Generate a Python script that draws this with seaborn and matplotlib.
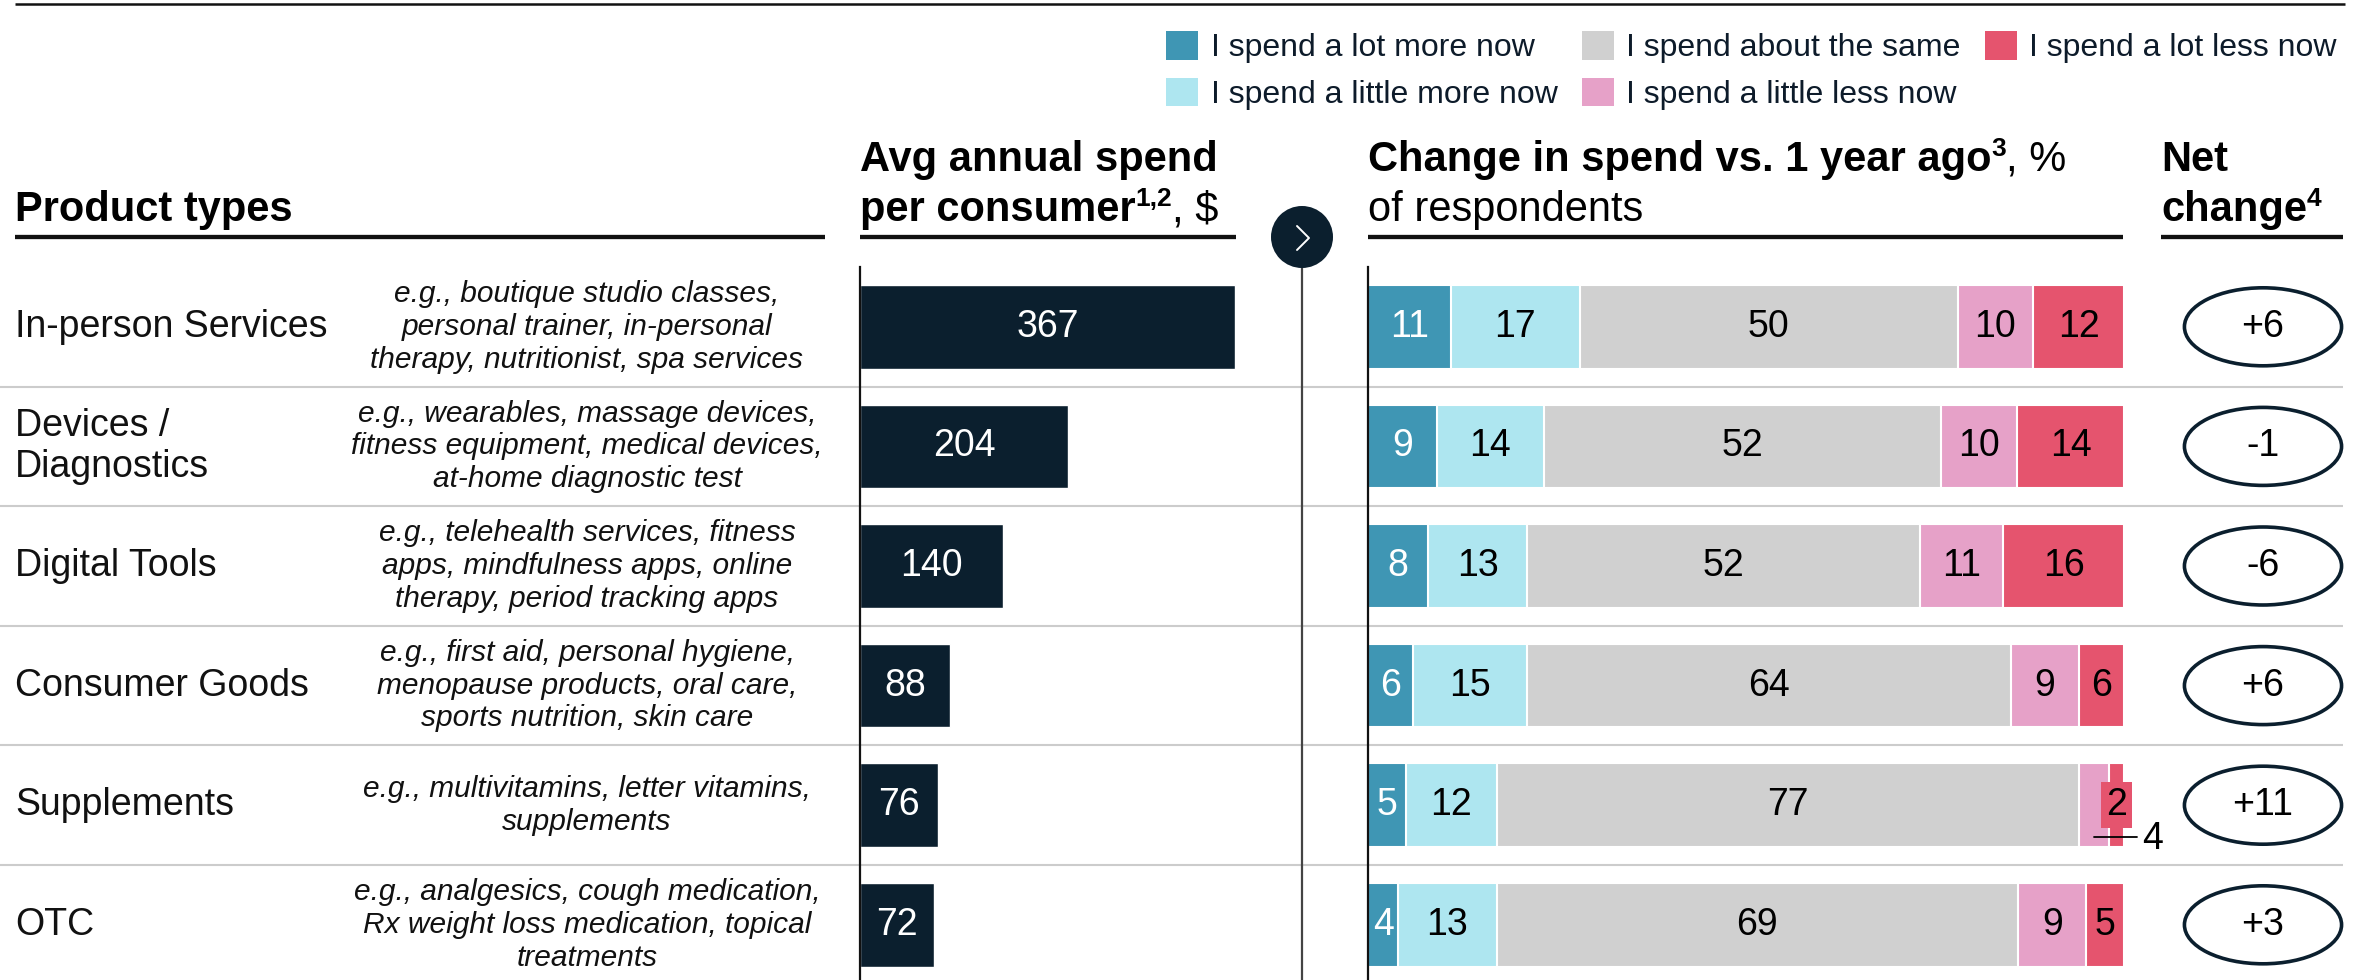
import matplotlib
matplotlib.use("Agg")
import matplotlib.pyplot as plt
import seaborn as sns
import numpy as np
import pandas as pd
from matplotlib.patches import Ellipse, Rectangle, Patch, Circle

# ---------------- data ----------------
categories = ["In-person Services", "Devices /\nDiagnostics", "Digital Tools",
              "Consumer Goods", "Supplements", "OTC"]
descriptions = [
    "e.g., boutique studio classes,\npersonal trainer, in-personal\ntherapy, nutritionist, spa services",
    "e.g., wearables, massage devices,\nfitness equipment, medical devices,\nat-home diagnostic test",
    "e.g., telehealth services, fitness\napps, mindfulness apps, online\ntherapy, period tracking apps",
    "e.g., first aid, personal hygiene,\nmenopause products, oral care,\nsports nutrition, skin care",
    "e.g., multivitamins, letter vitamins,\nsupplements",
    "e.g., analgesics, cough medication,\nRx weight loss medication, topical\ntreatments",
]
avg_spend = [367, 204, 140, 88, 76, 72]
lot_more = [11, 9, 8, 6, 5, 4]
little_more = [17, 14, 13, 15, 12, 13]
same = [50, 52, 52, 64, 77, 69]
little_less = [10, 10, 11, 9, 4, 9]
lot_less = [12, 14, 16, 6, 2, 5]
net_change = ["+6", "-1", "-6", "+6", "+11", "+3"]
legend_labels = ["I spend a lot more now", "I spend a little more now",
                 "I spend about the same", "I spend a little less now",
                 "I spend a lot less now"]

# ---------------- style ----------------
NAVY = "#0b1f2e"
colors = ["#3f96b4", "#aee6f0", "#d0d0d0", "#e6a1c8", "#e5546e"]
text_colors = ["white", "black", "black", "black", "black"]

W, H, DPI = 2362, 980, 100
sns.set_theme(style="white")
plt.rcParams['font.family'] = ['Liberation Sans', 'DejaVu Sans']

fig = plt.figure(figsize=(W / DPI, H / DPI), dpi=DPI)
fig.patch.set_facecolor("white")

ROW_TOP = 267
ROW_H = 119.6
n = len(categories)
ROW_BOT = ROW_TOP + ROW_H * n
BAR_W = 0.70


def add_axes_px(x0, x1, y0, y1):
    ax = fig.add_axes([x0 / W, 1 - y1 / H, (x1 - x0) / W, (y1 - y0) / H])
    ax.patch.set_alpha(0)
    return ax


def clean(ax, left=False):
    ax.set_xticks([])
    ax.set_yticks([])
    ax.set_xlabel("")
    ax.set_ylabel("")
    for s in ["top", "right", "bottom", "left"]:
        ax.spines[s].set_visible(False)
    if left:
        ax.spines["left"].set_visible(True)
        ax.spines["left"].set_color("#111111")
        ax.spines["left"].set_linewidth(1.6)
    ax.set_ylim(n - 0.5, -0.5)


# background rows
axbg = add_axes_px(0, 2343, ROW_TOP, ROW_BOT)
axbg.set_xlim(0, 2343)
axbg.set_ylim(n - 0.5, -0.5)
axbg.axis("off")
for i in range(n - 1):
    axbg.axhline(i + 0.5, color="#cccccc", lw=1.5)
for i, (c, d) in enumerate(zip(categories, descriptions)):
    axbg.text(15, i, c, va="center", ha="left", fontsize=27, color="#111111", linespacing=1.18)
    axbg.text(587, i, d, va="center", ha="center", fontsize=21.5, style="italic",
              color="#111111", linespacing=1.22)

# avg spend bars
ax1 = add_axes_px(860, 1240, ROW_TOP, ROW_BOT)
df_spend = pd.DataFrame({"category": categories, "spend": avg_spend})
sns.barplot(data=df_spend, x="spend", y="category", color=NAVY, orient="h",
            width=BAR_W, saturation=1, ax=ax1)
ax1.set_xlim(0, 372)
ax1.bar_label(ax1.containers[0], labels=[str(v) for v in avg_spend],
              label_type="center", color="white", fontsize=27)
clean(ax1, left=True)

# stacked change bars (each row shown as share of its total)
ax2 = add_axes_px(1368, 2124, ROW_TOP, ROW_BOT)
segments = np.array([lot_more, little_more, same, little_less, lot_less], dtype=float)
shares = segments / segments.sum(axis=0) * 100
cum = np.cumsum(shares, axis=0)
for k in reversed(range(len(segments))):
    sns.barplot(x=cum[k], y=categories, color=colors[k], orient="h", width=BAR_W,
                saturation=1, edgecolor="white", linewidth=1.5, ax=ax2)
ax2.set_xlim(0, 100)
for k in range(len(segments)):
    for i in range(n):
        v = int(segments[k][i])
        cx = cum[k][i] - shares[k][i] / 2
        if k >= 3 and segments[3][i] <= 4 and segments[4][i] <= 4:
            if k == 4:
                ax2.add_patch(Rectangle((cx - 2.1, i - 0.19), 4.2, 0.38,
                                        facecolor=colors[4], edgecolor="none",
                                        clip_on=False, zorder=3))
                ax2.text(cx, i, str(v), ha="center", va="center", fontsize=27,
                         color="black", zorder=4)
            else:
                ax2.plot([cx, 101.7], [i + 0.27, i + 0.27], color="black",
                         lw=1.3, clip_on=False, zorder=5)
                ax2.text(102.4, i + 0.285, str(v), ha="left", va="center",
                         fontsize=27, color="black", zorder=5)
        else:
            ax2.text(cx, i, str(v), ha="center", va="center", fontsize=27,
                     color=text_colors[k])
clean(ax2, left=True)

# net change ellipses
ax3 = add_axes_px(2182, 2344, ROW_TOP, ROW_BOT)
ax3.set_xlim(0, 1)
for i, v in enumerate(net_change):
    ax3.add_patch(Ellipse((0.5, i), width=0.97, height=78 / ROW_H, fill=False,
                          edgecolor=NAVY, lw=2.6, clip_on=False))
    ax3.text(0.5, i, v, ha="center", va="center", fontsize=27, color="black")
clean(ax3)

# overlay for header lines / chevron
ov = fig.add_axes([0, 0, 1, 1])
ov.set_xlim(0, W)
ov.set_ylim(H, 0)
ov.axis("off")
ov.patch.set_alpha(0)

ov.plot([15, 2345], [4, 4], color="#111111", lw=1.8, solid_capstyle="butt")
for x0, x1 in [(15, 825), (860, 1236), (1368, 2123), (2161, 2343)]:
    ov.plot([x0, x1], [237, 237], color="#111111", lw=3.1, solid_capstyle="butt")

ov.plot([1302, 1302], [250, H], color="#444444", lw=1.6, zorder=1)
ov.add_patch(Circle((1302, 237), 31, facecolor=NAVY, edgecolor="none", zorder=3))
ov.plot([1297, 1309, 1297], [226, 238, 250], color="white", lw=1.4, zorder=4)

renderer = fig.canvas.get_renderer()


def rich(x, y, parts):
    for s, weight, sup in parts:
        size = 19 if sup else 30
        yy = y - 15 if sup else y
        t = ov.text(x, yy, s, fontsize=size, fontweight=weight, ha="left",
                    va="baseline", color="black")
        x += t.get_window_extent(renderer=renderer).width


rich(15, 221, [("Product types", "bold", False)])
rich(860, 171, [("Avg annual spend", "bold", False)])
rich(860, 221, [("per consumer", "bold", False), ("1,2", "bold", True),
                (", \\$", "normal", False)])
rich(1368, 171, [("Change in spend vs. 1 year ago", "bold", False), ("3", "bold", True),
                 (", %", "normal", False)])
rich(1368, 221, [("of respondents", "normal", False)])
rich(2161, 171, [("Net", "bold", False)])
rich(2161, 221, [("change", "bold", False), ("4", "bold", True)])

# legend
handles = [Patch(facecolor=c, edgecolor="none") for c in colors]
fig.legend(handles, legend_labels, loc="upper left",
           bbox_to_anchor=(1166 / W, 1 - 31 / H), ncol=3, frameon=False,
           fontsize=23, handlelength=1.0, handleheight=1.0, handletextpad=0.4,
           columnspacing=0.75, labelspacing=0.45, borderpad=0, borderaxespad=0,
           labelcolor="#0d1b2a")

fig.savefig("out.png", dpi=DPI, facecolor="white")
